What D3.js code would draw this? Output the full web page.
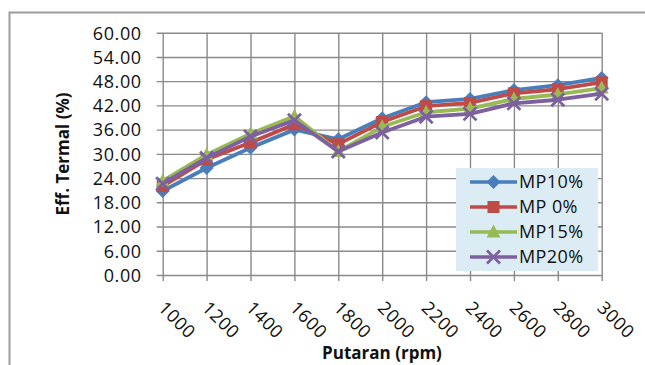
<!DOCTYPE html>
<html><head><meta charset="utf-8">
<script src="https://cdn.jsdelivr.net/npm/d3@7"></script>
<style>
html,body{margin:0;padding:0;background:#fff;}
svg{display:block;}
text{font-family:"Open Sans","Noto Sans",sans-serif;fill:#111;}
</style></head>
<body>
<svg id="chart" width="645" height="365"></svg>
<script>
const categories = [1000,1200,1400,1600,1800,2000,2200,2400,2600,2800,3000];
const mp10 = [20.8,26.5,31.5,36.0,33.6,38.8,42.8,43.6,45.8,47.0,48.8];
const mp0  = [22.0,28.6,32.8,37.3,32.4,37.9,41.8,42.6,45.0,46.0,47.7];
const mp15 = [23.3,29.8,35.0,39.3,30.6,36.7,40.3,41.2,43.6,44.7,46.3];
const mp20 = [22.6,29.0,34.3,38.3,30.6,35.3,39.2,39.9,42.5,43.4,44.9];
const seriesNames = ["MP10%","MP 0%","MP15%","MP20%"];
const seriesColors = ["#4a7ebb","#be4b48","#98b954","#7d60a0"];
const seriesMarkers = ["diamond","square","triangle","x"];
const yTicks = [0,6,12,18,24,30,36,42,48,54,60];

const svg = d3.select("#chart");
const L = 162.7, R = 601.7, T = 32.7, B = 275;
const x = d3.scalePoint().domain(categories).range([L, R]);
const y = d3.scaleLinear().domain([0,60]).range([B, T]);

// outer frame
svg.append("rect").attr("x",9.5).attr("y",12.5).attr("width",700).attr("height",400)
  .attr("fill","none").attr("stroke","#9c9c9c").attr("stroke-width",2);

const gridColor = "#8a8a8a";
// horizontal grid + y axis
const yAxis = d3.axisLeft(y).tickValues(yTicks).tickSize(-(R-L)).tickPadding(17)
  .tickFormat(d => d3.format(".2f")(d));
const gy = svg.append("g").attr("transform",`translate(${L},0)`).call(yAxis);
gy.select(".domain").remove();
gy.selectAll(".tick line").attr("stroke",gridColor).attr("stroke-width",1.4).attr("x1",-6);
gy.selectAll(".tick text").attr("font-size",18).attr("fill","#111").attr("letter-spacing","0.6")
  .attr("x",-21).attr("dy","0.35em");

// vertical grid + x axis
const xAxis = d3.axisBottom(x).tickSize(-(B-T)).tickPadding(0);
const gx = svg.append("g").attr("transform",`translate(0,${B})`).call(xAxis);
gx.select(".domain").remove();
gx.selectAll(".tick line").attr("stroke",gridColor).attr("stroke-width",1.4).attr("y1",6);
gx.selectAll(".tick text").attr("font-size",18).attr("fill","#111").attr("letter-spacing","0.6")
  .attr("text-anchor","start").attr("dy",0).attr("y",0)
  .attr("transform","translate(-6,34) rotate(45)");

// series
const allSeries = [mp10, mp0, mp15, mp20];
const line = d3.line().x((d,i)=>x(categories[i])).y(d=>y(d));

function drawMarker(g, type, color, cx, cy){
  if(type==="diamond"){
    g.append("path").attr("d",`M${cx},${cy-7}L${cx+7},${cy}L${cx},${cy+7}L${cx-7},${cy}Z`).attr("fill",color);
  } else if(type==="square"){
    g.append("rect").attr("x",cx-6).attr("y",cy-6).attr("width",12).attr("height",12).attr("fill",color);
  } else if(type==="triangle"){
    g.append("path").attr("d",`M${cx},${cy-7.5}L${cx+7},${cy+5.5}L${cx-7},${cy+5.5}Z`).attr("fill",color);
  } else {
    g.append("path").attr("d",`M${cx-6.5},${cy-6.5}L${cx+6.5},${cy+6.5}M${cx-6.5},${cy+6.5}L${cx+6.5},${cy-6.5}`)
      .attr("stroke",color).attr("stroke-width",2.8).attr("fill","none");
  }
}

allSeries.forEach((s,k)=>{
  const g = svg.append("g");
  g.append("path").datum(s).attr("d",line).attr("fill","none")
    .attr("stroke",seriesColors[k]).attr("stroke-width",3.8).attr("stroke-linejoin","round");
  s.forEach((v,i)=>drawMarker(g, seriesMarkers[k], seriesColors[k], x(categories[i]), y(v)));
});

// legend
const lg = svg.append("g");
lg.append("rect").attr("x",456).attr("y",168).attr("width",142).attr("height",103).attr("fill","#dbecf4");
const ly = [182, 207, 232, 257];
seriesNames.forEach((n,k)=>{
  lg.append("line").attr("x1",470).attr("x2",517).attr("y1",ly[k]).attr("y2",ly[k])
    .attr("stroke",seriesColors[k]).attr("stroke-width",3.6);
  drawMarker(lg, seriesMarkers[k], seriesColors[k], 493.5, ly[k]);
  lg.append("text").attr("x",519).attr("y",ly[k]).attr("dy","0.36em").attr("font-size",18)
    .attr("letter-spacing","0.4").text(n);
});

// axis titles
svg.append("text").attr("x",382).attr("y",359).attr("text-anchor","middle")
  .attr("font-size",17).attr("font-weight","bold").text("Putaran (rpm)");
svg.append("text").attr("transform","translate(69,154) rotate(-90)").attr("text-anchor","middle")
  .attr("font-size",17).attr("font-weight","bold").text("Eff. Termal (%)");
</script>
</body></html>
